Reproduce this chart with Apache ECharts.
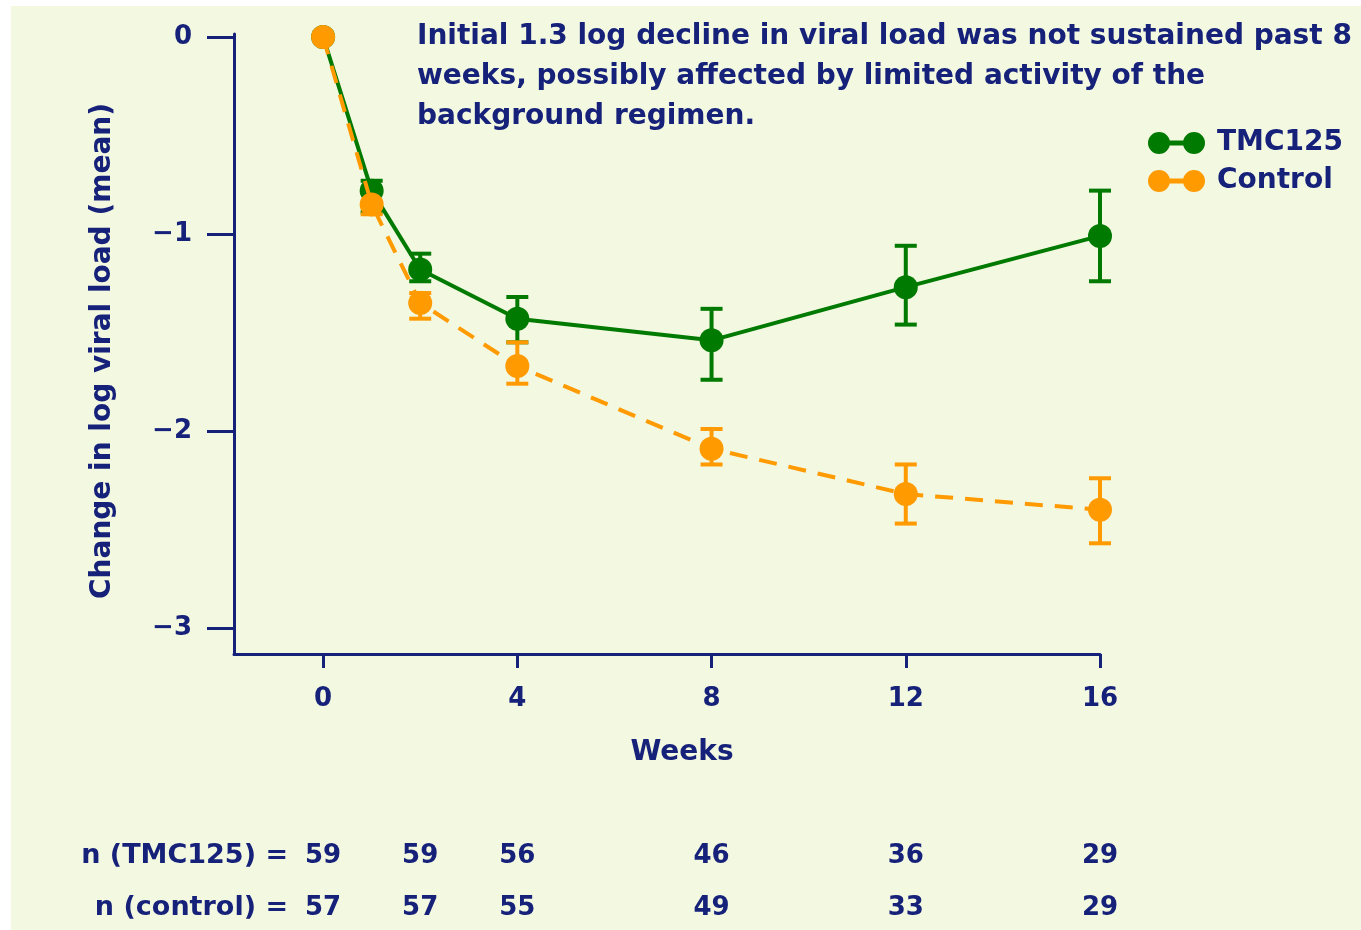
<!DOCTYPE html>
<html>
<head>
<meta charset="utf-8">
<script src="https://cdn.jsdelivr.net/npm/echarts@6/dist/echarts.min.js"></script>
<style>
html,body{margin:0;padding:0;background:#fff;}
#chart{width:1361px;height:930px;}
</style>
</head>
<body>
<div id="chart"></div>
<script>
const weeks = [0, 1, 2, 4, 8, 12, 16];
const tmcMean = [0, -0.78, -1.18, -1.43, -1.54, -1.27, -1.01];
const tmcLow  = [null, -0.89, -1.24, -1.55, -1.74, -1.46, -1.24];
const tmcHigh = [null, -0.73, -1.10, -1.32, -1.38, -1.06, -0.78];
const ctlMean = [0, -0.85, -1.35, -1.67, -2.09, -2.32, -2.40];
const ctlLow  = [null, -0.90, -1.43, -1.76, -2.17, -2.47, -2.57];
const ctlHigh = [null, -0.79, -1.30, -1.55, -1.99, -2.17, -2.24];
const xTicks = [0, 4, 8, 12, 16];
const yTicks = [0, -1, -2, -3];
const nWeeks = [0, 2, 4, 8, 12, 16];
const nTmc = [59, 59, 56, 46, 36, 29];
const nCtl = [57, 57, 55, 49, 33, 29];
const nRows = ['n (control) =', 'n (TMC125) ='];
const seriesNames = ['TMC125', 'Control'];
const annotation = 'Initial 1.3 log decline in viral load was not sustained past 8\nweeks, possibly affected by limited activity of the\nbackground regimen.';

const NAVY = '#16217a';
const GREEN = '#017a01';
const ORANGE = '#ff9a00';
const FONT = 'DejaVu Sans, Verdana, sans-serif';
const FS = 26;   // tick labels and n values
const FT = 28;   // titles, legend, row labels
const legendIcon = 'path://M0,11a11,11 0 1,1 22,0a11,11 0 1,1 -22,0Z M35,11a11,11 0 1,1 22,0a11,11 0 1,1 -22,0Z M18,8.5h22v5h-22Z';

function pairs(xs, ys) { return xs.map((x, i) => [x, ys[i]]); }
function errData(xs, lo, hi) {
  const out = [];
  xs.forEach((x, i) => { if (lo[i] !== null) out.push([x, lo[i], hi[i]]); });
  return out;
}
function errSeries(name, data, color) {
  return {
    type: 'custom', name: name, data: data, z: 3,
    xAxisIndex: 0, yAxisIndex: 0,
    renderItem: function (params, api) {
      const x = api.value(0);
      const pLo = api.coord([x, api.value(1)]);
      const pHi = api.coord([x, api.value(2)]);
      const w = 11;
      const st = { stroke: color, lineWidth: 4 };
      return {
        type: 'group',
        children: [
          { type: 'line', shape: { x1: pLo[0], y1: pLo[1], x2: pHi[0], y2: pHi[1] }, style: st },
          { type: 'line', shape: { x1: pLo[0] - w, y1: pLo[1], x2: pLo[0] + w, y2: pLo[1] }, style: st },
          { type: 'line', shape: { x1: pHi[0] - w, y1: pHi[1], x2: pHi[0] + w, y2: pHi[1] }, style: st }
        ]
      };
    }
  };
}
function nSeries(values, row) {
  return {
    type: 'custom', xAxisIndex: 1, yAxisIndex: 1, silent: true,
    data: nWeeks.map((w, i) => [w, row, values[i]]),
    renderItem: function (params, api) {
      const p = api.coord([api.value(0), api.value(1)]);
      return {
        type: 'text', x: p[0], y: p[1],
        style: {
          text: String(api.value(2)), fill: NAVY, align: 'center', verticalAlign: 'middle',
          font: 'bold ' + FS + 'px ' + FONT
        }
      };
    }
  };
}

const chart = echarts.init(document.getElementById('chart'), null, { renderer: 'canvas' });
chart.setOption({
  backgroundColor: '#ffffff',
  animation: false,
  graphic: [{
    type: 'rect', z: -10, silent: true,
    shape: { x: 11, y: 6, width: 1350, height: 924 },
    style: { fill: '#f3f8e1' }
  }],
  title: {
    text: annotation,
    left: 417, top: 17, padding: 0,
    textStyle: { color: NAVY, fontSize: FT, fontWeight: 'bold', fontFamily: FONT, lineHeight: 40 }
  },
  legend: {
    orient: 'vertical', left: 1148, top: 129, padding: 0,
    itemWidth: 57, itemHeight: 22, itemGap: 10,
    itemStyle: { borderWidth: 0 },
    data: seriesNames.map(n => ({ name: n, icon: legendIcon })),
    textStyle: { color: NAVY, fontSize: FT, fontWeight: 'bold', fontFamily: FONT, padding: [0, 0, 0, 7], lineHeight: 24 }
  },
  grid: [
    { left: 234, top: 34, width: 866, height: 620 },
    { left: 234, top: 856, width: 866, height: 52 }
  ],
  xAxis: [{
    type: 'value', gridIndex: 0, min: -1.835, max: 16,
    axisLine: { show: true, onZero: false, lineStyle: { color: NAVY, width: 3 } },
    axisTick: { show: true, length: 14, customValues: xTicks, lineStyle: { color: NAVY, width: 3 } },
    axisLabel: { customValues: xTicks, margin: 32, color: NAVY, fontSize: FS, fontWeight: 'bold', fontFamily: FONT },
    splitLine: { show: false },
    name: 'Weeks', nameLocation: 'middle', nameGap: 85,
    nameTextStyle: { color: NAVY, fontSize: FT, fontWeight: 'bold', fontFamily: FONT, padding: [0, 0, 0, 30] }
  }, {
    type: 'value', gridIndex: 1, min: -1.835, max: 16, show: false
  }],
  yAxis: [{
    type: 'value', gridIndex: 0, min: -3.132, max: 0.015,
    axisLine: { show: true, onZero: false, lineStyle: { color: NAVY, width: 3 } },
    axisTick: { show: true, length: 27, customValues: yTicks, lineStyle: { color: NAVY, width: 3 } },
    axisLabel: {
      customValues: yTicks, margin: 42, color: NAVY, fontSize: FS, fontWeight: 'bold', fontFamily: FONT,
      formatter: v => (v === 0 ? '0' : '\u2212' + Math.abs(v))
    },
    splitLine: { show: false },
    name: 'Change in log viral load (mean)', nameLocation: 'middle', nameGap: 117,
    nameTextStyle: { color: NAVY, fontSize: FT, fontWeight: 'bold', fontFamily: FONT, padding: [0, 14, 0, 0] }
  }, {
    type: 'value', gridIndex: 1, min: 0, max: 1,
    axisLine: { show: false }, axisTick: { show: false }, splitLine: { show: false },
    axisLabel: {
      customValues: [0, 1], margin: -54, color: NAVY, fontSize: FT - 1, fontWeight: 'bold', fontFamily: FONT,
      formatter: v => nRows[Math.round(v)]
    }
  }],
  series: [
    {
      type: 'line', name: seriesNames[0], data: pairs(weeks, tmcMean), z: 4,
      symbol: 'circle', symbolSize: 24, color: GREEN,
      lineStyle: { color: GREEN, width: 4 }, itemStyle: { color: GREEN, borderWidth: 0 }
    },
    errSeries(seriesNames[0], errData(weeks, tmcLow, tmcHigh), GREEN),
    {
      type: 'line', name: seriesNames[1], data: pairs(weeks, ctlMean), z: 5,
      symbol: 'circle', symbolSize: 24, color: ORANGE,
      lineStyle: { color: ORANGE, width: 4, type: [18, 12] }, itemStyle: { color: ORANGE, borderWidth: 0 }
    },
    errSeries(seriesNames[1], errData(weeks, ctlLow, ctlHigh), ORANGE),
    nSeries(nTmc, 1),
    nSeries(nCtl, 0)
  ]
});
</script>
</body>
</html>
